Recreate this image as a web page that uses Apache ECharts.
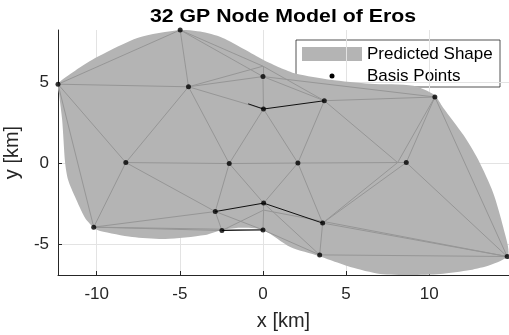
<!DOCTYPE html>
<html>
<head>
<meta charset="utf-8">
<script src="https://cdn.jsdelivr.net/npm/echarts@6/dist/echarts.min.js"></script>
<style>
  html, body { margin: 0; padding: 0; background: #ffffff; }
  #chart { width: 509px; height: 335px; }
</style>
</head>
<body>
<div id="chart"></div>
<script>
// Outline of the predicted shape [km], clockwise from the left tip
const outlineX = [-12.32, -11.30, -9.92, -7.51, -4.98, -3.78, -2.45, -1.07, 0.01, 1.03, 2.00, 4.04, 6.45, 9.04,
  10.30, 10.84, 12.05, 12.95, 13.85, 14.45, 14.75, 13.67, 12.47, 10.66, 8.86, 7.05, 5.25, 4.04, 3.38, 1.64,
  0.01, -1.37, -2.45, -3.48, -5.88, -7.87, -9.80, -10.15, -10.70, -11.30, -11.72, -11.90, -12.08, -12.26];
const outlineY = [4.89, 5.69, 6.56, 7.73, 8.20, 8.10, 7.73, 6.99, 6.37, 5.88, 5.51, 5.14, 4.89, 4.77,
  4.21, 3.41, 1.74, 0.20, -1.84, -3.94, -5.68, -6.28, -6.59, -6.84, -6.90, -6.84, -6.41, -5.98, -5.73, -5.17,
  -4.12, -3.99, -4.12, -4.43, -4.68, -4.56, -4.19, -4.00, -3.38, -2.09, -1.04, 0.01, 2.67, 4.21];

// Mesh vertices [km]: indices 0-18 are the visible basis points, the rest are far-side vertices
const vertX = [-12.33, -4.98, -4.48, 0.00, 0.03, 3.69, 10.34, -8.25, -2.03, 2.10, 8.62, -10.18, -2.87, -2.47,
  0.04, 3.59, 3.41, 14.69, 0.00, 0.00, 8.10, 0.04, -0.89];
const vertY = [4.86, 8.20, 4.70, 5.33, 3.33, 3.84, 4.07, 0.03, -0.03, 0.00, 0.03, -3.95, -2.99, -4.16,
  -2.47, -3.70, -5.66, -5.76, -4.12, 5.97, 0.03, -2.90, 3.65];
const basisCount = 19;

// Triangulation edges (vertex index pairs)
const meshEdges = [[0,1],[0,2],[0,7],[0,11],[1,2],[1,19],[1,3],[2,19],[2,3],[2,4],[2,7],[2,8],[19,3],[3,4],
  [3,6],[19,5],[4,8],[4,9],[5,9],[5,20],[5,6],[3,5],[6,10],[6,20],[6,17],[7,8],[8,9],[9,20],[20,10],[10,17],
  [10,15],[20,15],[7,11],[7,12],[11,12],[11,13],[11,18],[8,12],[8,14],[9,14],[9,15],[12,13],[12,18],[13,21],
  [14,21],[21,18],[18,16],[14,16],[15,16],[15,17],[21,17],[16,17]];
// Near-side edges drawn in black
const frontEdges = [[22,4],[4,5],[12,14],[14,15],[13,18]];

// Axis settings
const xRange = [-12.33, 14.8];
const yRange = [-6.9, 8.2];

const outline = outlineX.map((x, i) => [x, outlineY[i]]);
const basisPoints = vertX.slice(0, basisCount).map((x, i) => [x, vertY[i]]);
const toSegments = edges => edges.map(([a, b]) => ({ coords: [[vertX[a], vertY[a]], [vertX[b], vertY[b]]] }));

const axisColor = '#262626';
const shapeColor = '#b4b4b4';
const fontFamily = '"Liberation Sans", Arial, Helvetica, sans-serif';

const chart = echarts.init(document.getElementById('chart'), null, { renderer: 'canvas' });

chart.setOption({
  animation: false,
  backgroundColor: '#ffffff',
  textStyle: { fontFamily: fontFamily },
  grid: { left: 58, right: 0, top: 30, bottom: 60, containLabel: false, outerBoundsMode: 'none' },
  xAxis: {
    type: 'value', min: xRange[0], max: xRange[1], splitNumber: 5,
    name: 'x [km]', nameLocation: 'middle', nameGap: 36,
    nameTextStyle: { fontSize: 20, color: axisColor, fontFamily: fontFamily },
    axisLine: { show: true, onZero: false, lineStyle: { color: axisColor, width: 1 } },
    axisTick: { show: true, inside: true, length: 4, lineStyle: { color: axisColor } },
    axisLabel: { fontSize: 17, color: axisColor, margin: 11, showMinLabel: false, showMaxLabel: false, fontFamily: fontFamily },
    splitLine: { show: true, showMinLine: false, showMaxLine: false, lineStyle: { color: '#e3e3e3', width: 1 } }
  },
  yAxis: {
    type: 'value', min: yRange[0], max: yRange[1], splitNumber: 3,
    name: 'y [km]', nameLocation: 'middle', nameGap: 34,
    nameTextStyle: { fontSize: 20, color: axisColor, fontFamily: fontFamily },
    axisLine: { show: true, onZero: false, lineStyle: { color: axisColor, width: 1 } },
    axisTick: { show: true, inside: true, length: 4, lineStyle: { color: axisColor } },
    axisLabel: { fontSize: 17, color: axisColor, margin: 9, showMinLabel: false, showMaxLabel: false, fontFamily: fontFamily },
    splitLine: { show: true, showMinLine: false, showMaxLine: false, lineStyle: { color: '#e3e3e3', width: 1 } }
  },
  graphic: [
    {
      type: 'text', x: 283, y: 16.5, scaleX: 1.12, z: 100,
      style: { text: '32 GP Node Model of Eros', font: 'bold 19px ' + fontFamily, fill: '#000000',
        align: 'center', verticalAlign: 'middle' }
    },
    {
      type: 'group', x: 296, y: 40, z: 100,
      children: [
        { type: 'rect', shape: { x: 0, y: 0, width: 204, height: 47 },
          style: { fill: '#ffffff', stroke: axisColor, lineWidth: 0.8 } },
        { type: 'rect', shape: { x: 6, y: 7, width: 60, height: 14 }, style: { fill: shapeColor } },
        { type: 'text', x: 71, y: 14, style: { text: 'Predicted Shape', font: '17px ' + fontFamily, fill: '#000000', verticalAlign: 'middle' } },
        { type: 'circle', shape: { cx: 36, cy: 36, r: 2.5 }, style: { fill: '#000000' } },
        { type: 'text', x: 71, y: 36.5, style: { text: 'Basis Points', font: '17px ' + fontFamily, fill: '#000000', verticalAlign: 'middle' } }
      ]
    }
  ],
  series: [
    {
      name: 'Predicted Shape', type: 'custom', clip: true, silent: true, z: 1,
      data: [0],
      renderItem: function (params, api) {
        const pts = outline.map(p => api.coord(p));
        return { type: 'polygon', shape: { points: pts, smooth: 0.25 }, style: { fill: shapeColor } };
      }
    },
    {
      name: 'Mesh', type: 'lines', coordinateSystem: 'cartesian2d', silent: true, z: 2,
      lineStyle: { color: '#969696', width: 1, opacity: 1 },
      data: toSegments(meshEdges)
    },
    {
      name: 'Front Edges', type: 'lines', coordinateSystem: 'cartesian2d', silent: true, z: 3,
      lineStyle: { color: '#111111', width: 1, opacity: 1 },
      data: toSegments(frontEdges)
    },
    {
      name: 'Basis Points', type: 'scatter', z: 4, symbol: 'circle', symbolSize: 5,
      itemStyle: { color: '#000000' },
      data: basisPoints
    }
  ]
});
</script>
</body>
</html>
